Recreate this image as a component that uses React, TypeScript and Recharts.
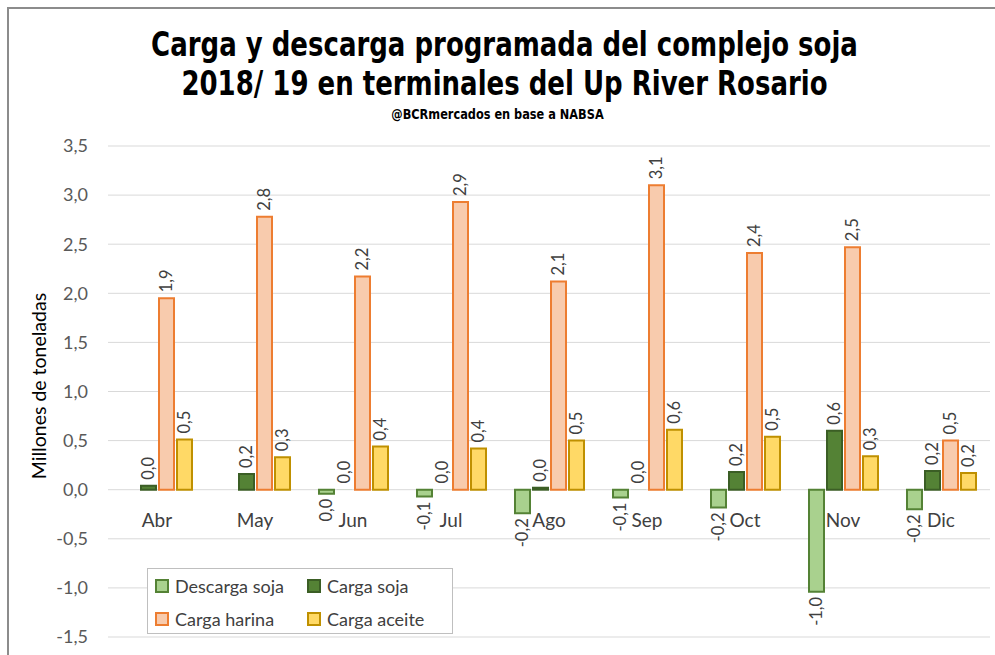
import { BarChart, Bar, XAxis, YAxis, CartesianGrid, LabelList, Cell } from "recharts";

const months = ["Abr", "May", "Jun", "Jul", "Ago", "Sep", "Oct", "Nov", "Dic"];
const descargaSoja = [null, null, -0.04, -0.07, -0.24, -0.08, -0.18, -1.04, -0.2];
const cargaSoja = [0.04, 0.16, 0.001, 0.001, 0.02, 0.001, 0.18, 0.6, 0.19];
const cargaHarina = [1.95, 2.78, 2.17, 2.93, 2.12, 3.1, 2.41, 2.47, 0.5];
const cargaAceite = [0.51, 0.33, 0.44, 0.42, 0.5, 0.61, 0.54, 0.34, 0.17];
const yTicks = [-1.5, -1.0, -0.5, 0, 0.5, 1.0, 1.5, 2.0, 2.5, 3.0, 3.5];

const data = months.map((m, i) => ({
  month: m,
  descarga: descargaSoja[i],
  cargaSoja: cargaSoja[i],
  harina: cargaHarina[i],
  aceite: cargaAceite[i],
}));

const series = [
  { key: "descarga", name: "Descarga soja", fill: "#a9d18e", stroke: "#548235" },
  { key: "cargaSoja", name: "Carga soja", fill: "#548235", stroke: "#3b5e25" },
  { key: "harina", name: "Carga harina", fill: "#f8cbad", stroke: "#ed7d31" },
  { key: "aceite", name: "Carga aceite", fill: "#ffd966", stroke: "#bf9000" },
];

const FONT = "Lato, 'Open Sans', sans-serif";
const TITLE_FONT = "'DejaVu Sans Condensed', 'DejaVu Sans', sans-serif";

const W = 995;
const H = 655;
const TOP = 146;
const BOTTOM = 18;
const plotH = H - TOP - BOTTOM;
// distance from plot bottom up to the zero line
const zeroFromBottom = (plotH * 1.5) / 5;

const fmt = (v: number) => {
  const s = Math.abs(v) < 0.05 ? "0.0" : v.toFixed(1);
  return s.replace(".", ",");
};

const BarLabel = (props: any) => {
  const { x, y, width, height, value } = props;
  if (value === null || value === undefined) return null;
  const top = Math.min(y, y + height);
  const bottom = Math.max(y, y + height);
  const cx = x + width / 2;
  const neg = value < 0;
  const ay = neg ? bottom + 5 : top - 6;
  return (
    <text
      x={cx}
      y={ay}
      transform={`rotate(-90, ${cx}, ${ay})`}
      textAnchor={neg ? "end" : "start"}
      dominantBaseline="central"
      fontSize={16.5}
      fontFamily={FONT}
      fill="#404040"
    >
      {fmt(value)}
    </text>
  );
};

const MonthTick = (props: any) => {
  const { x, y, payload } = props;
  return (
    <text
      x={x}
      y={y - zeroFromBottom + 22}
      textAnchor="middle"
      dominantBaseline="central"
      fontSize={19}
      fontFamily={FONT}
      fill="#404040"
    >
      {payload.value}
    </text>
  );
};

const LegendBox = () => (
  <div
    style={{
      position: "absolute",
      left: 147,
      top: 568,
      width: 306,
      height: 66,
      border: "1px solid #bfbfbf",
      background: "#fff",
      boxSizing: "border-box",
      display: "grid",
      gridTemplateColumns: "152px 150px",
      gridTemplateRows: "33px 33px",
      alignItems: "center",
      paddingLeft: 7,
      fontFamily: FONT,
      fontSize: 18,
      color: "#404040",
    }}
  >
    {series.map((s) => (
      <div key={s.key} style={{ display: "flex", alignItems: "center", whiteSpace: "nowrap" }}>
        <span
          style={{
            display: "inline-block",
            width: 10,
            height: 10,
            background: s.fill,
            border: `2px solid ${s.stroke}`,
            marginRight: 6,
          }}
        />
        {s.name}
      </div>
    ))}
  </div>
);

export default function App() {
  return (
    <div
      style={{
        position: "absolute",
        left: 0,
        top: 0,
        width: W,
        height: H,
        background: "#fff",
        overflow: "hidden",
      }}
    >
      <div
        style={{
          position: "absolute",
          left: 7,
          top: 7,
          width: W,
          height: H,
          borderLeft: "2px solid #8c8c8c",
          borderTop: "2px solid #8c8c8c",
        }}
      />
      <div
        style={{
          position: "absolute",
          left: 0,
          width: W + 14,
          top: 25,
          textAlign: "center",
          fontFamily: TITLE_FONT,
          fontWeight: "bold",
          fontSize: 34,
          lineHeight: "39px",
          color: "#000",
          transform: "scaleX(0.85)",
          transformOrigin: "center",
        }}
      >
        Carga y descarga programada del complejo soja
        <br />
        2018/ 19 en terminales del Up River Rosario
      </div>
      <div
        style={{
          position: "absolute",
          left: 0,
          width: W,
          top: 106,
          textAlign: "center",
          fontFamily: TITLE_FONT,
          fontWeight: "bold",
          fontSize: 14,
          color: "#000",
          transform: "scaleX(0.9)",
          transformOrigin: "center",
        }}
      >
        @BCRmercados en base a NABSA
      </div>
      <div
        style={{
          position: "absolute",
          left: 38,
          top: 386,
          transform: "translate(-50%, -50%) rotate(-90deg)",
          whiteSpace: "nowrap",
          fontFamily: FONT,
          fontSize: 19.5,
          color: "#000",
        }}
      >
        Millones de toneladas
      </div>
      <BarChart
        width={W}
        height={H}
        data={data}
        margin={{ top: TOP, right: 5, bottom: BOTTOM - 1, left: 0 }}
        barSize={15}
        barGap={3}
        style={{ position: "absolute", left: 0, top: 0 }}
      >
        <CartesianGrid vertical={false} stroke="#d9d9d9" />
        <XAxis
          dataKey="month"
          height={1}
          axisLine={false}
          tickLine={false}
          tick={<MonthTick />}
          interval={0}
        />
        <YAxis
          width={108}
          domain={[-1.5, 3.5]}
          ticks={yTicks}
          interval={0}
          axisLine={false}
          tickLine={false}
          tickMargin={14}
          tickFormatter={(v: number) => v.toFixed(1).replace(".", ",")}
          tick={{ fontSize: 18, fill: "#595959", fontFamily: FONT }}
        />
        {series.map((s) => (
          <Bar
            key={s.key}
            dataKey={s.key}
            name={s.name}
            fill={s.fill}
            stroke={s.stroke}
            strokeWidth={2}
            isAnimationActive={false}
          >
            {data.map((d: any, i) => (
              <Cell
                key={i}
                strokeWidth={d[s.key] !== null && Math.abs(d[s.key]) < 0.01 ? 0 : 2}
              />
            ))}
            <LabelList dataKey={s.key} content={<BarLabel />} />
          </Bar>
        ))}
      </BarChart>
      <LegendBox />
    </div>
  );
}
